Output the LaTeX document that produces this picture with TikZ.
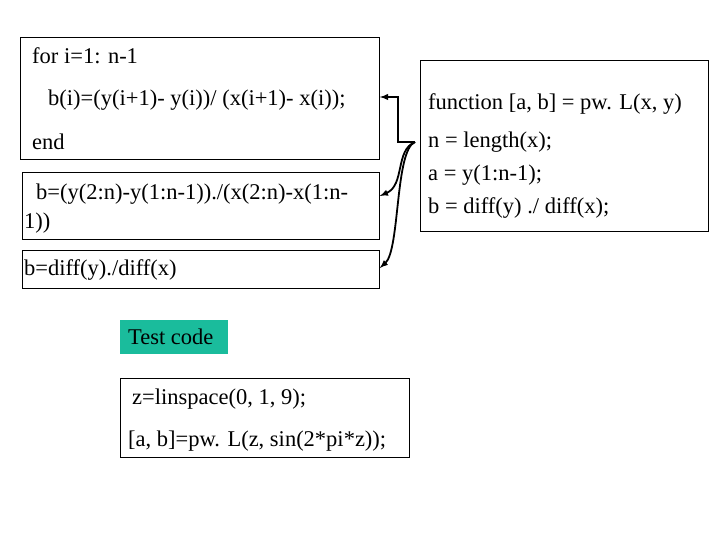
\documentclass[tikz,border=0pt]{standalone}
\usepackage{fontspec}
\setmainfont{Liberation Serif}
\begin{document}
\begin{tikzpicture}[x=1pt,y=-1pt,
 box/.style={draw,line width=0.8pt,inner sep=0},
 txt/.style={anchor=west,font=\fontsize{22.5}{24}\selectfont,inner sep=0},
 conn/.style={line width=1.8pt,-latex}]
\useasboundingbox (0,0) rectangle (720,540);
\node[box,minimum width=359,minimum height=122,anchor=north west] (b1) at (20,37) {};
\node[txt] (t1) at (32,56) {for i=1: n-1};
\node[txt] (t2) at (48,100) {b(i)=(y(i+1)- y(i))/ (x(i+1)- x(i));};
\node[txt] (t3) at (32,142) {end};
\node[box,minimum width=357,minimum height=67,anchor=north west] (b2) at (22,172) {};
\node[txt] (t4) at (36,194) {b=(y(2:n)-y(1:n-1))./(x(2:n)-x(1:n-};
\node[txt] (t5) at (24,223) {1))};
\node[box,minimum width=357,minimum height=38,anchor=north west] (b3) at (22,250) {};
\node[txt] (t6) at (24,270) {b=diff(y)./diff(x)};
\node[fill={rgb,255:red,26;green,188;blue,156},minimum width=108,minimum height=34,anchor=north west,inner sep=0] (tc) at (120,320) {};
\node[txt] (t7) at (128,337) {Test code};
\node[box,minimum width=289,minimum height=79,anchor=north west] (b4) at (120,378) {};
\node[txt] (t8) at (132,399) {z=linspace(0, 1, 9);};
\node[txt] (t9) at (128,441) {[a, b]=pw. L(z, sin(2*pi*z));};
\node[box,minimum width=288,minimum height=171,anchor=north west] (f) at (420,60) {};
\node[txt] (f1) at (428,104) {function [a, b] = pw. L(x, y)};
\node[txt] (f2) at (428,142) {n = length(x);};
\node[txt] (f3) at (428,175) {a = y(1:n-1);};
\node[txt] (f4) at (428,208) {b = diff(y) ./ diff(x);};
\coordinate (s) at (415,142);
\draw[conn] (s) -- (398,142) -- (398,97) -- (b1.east |- 0,97);
\draw[conn] (s) .. controls (395,150) and (405,185) .. (b2.east |- 0,196);
\draw[conn] (s) .. controls (395,150) and (400,250) .. (b3.east |- 0,268);
\end{tikzpicture}
\end{document}
